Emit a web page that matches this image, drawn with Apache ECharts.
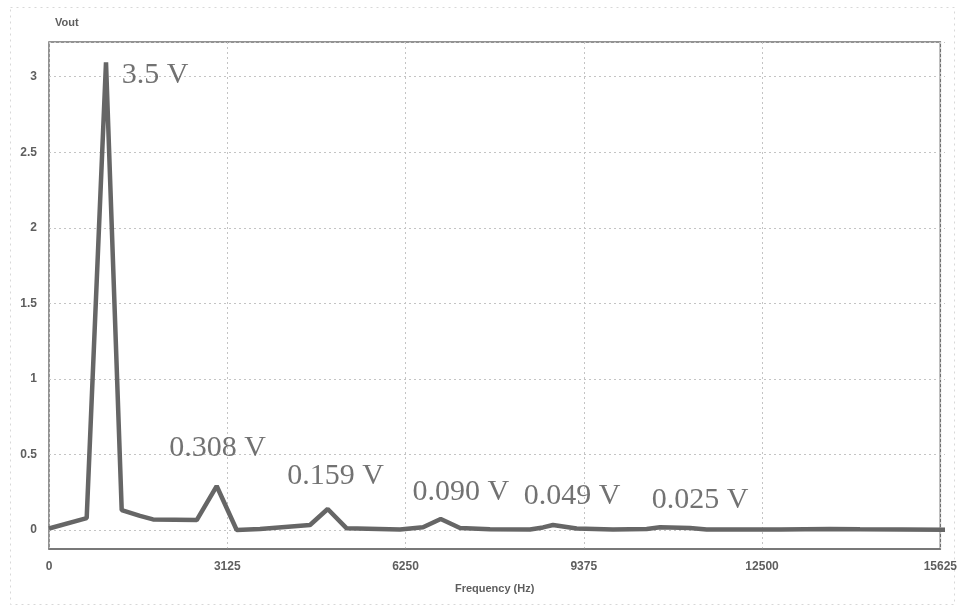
<!DOCTYPE html>
<html>
<head>
<meta charset="utf-8">
<script src="https://cdn.jsdelivr.net/npm/echarts@6/dist/echarts.min.js"></script>
<style>
html,body{margin:0;padding:0;background:#fff;}
#chart{width:960px;height:607px;}
</style>
</head>
<body>
<div id="chart"></div>
<script>
// ---- data ----
const freqHz = [0, 657, 994, 1268, 1587, 1814, 2576, 2924, 3273, 3680, 4552, 4860, 5191, 6121, 6522, 6831, 7168, 7691, 8388, 8615, 8789, 9202, 9835, 10423, 10656, 11178, 11469, 12748, 13620, 14143, 15625];
const vout   = [0.01, 0.079, 3.095, 0.132, 0.093, 0.07, 0.066, 0.291, 0.0, 0.007, 0.033, 0.139, 0.011, 0.003, 0.018, 0.073, 0.013, 0.005, 0.003, 0.017, 0.033, 0.01, 0.004, 0.007, 0.018, 0.013, 0.004, 0.004, 0.007, 0.005, 0.002];
const xTicks = [0, 3125, 6250, 9375, 12500, 15625];
const yTicks = [0, 0.5, 1, 1.5, 2, 2.5, 3];
const peakText  = ['3.5 V', '0.308 V', '0.159 V', '0.090 V', '0.049 V', '0.025 V'];
const peakIndex = [2, 7, 11, 15, 20, 24];

// ---- styles (label offsets in pixels) ----
const labelOffsets = [[49, 13], [1, -38], [8, -33], [20, -27], [19, -29], [40, -27]];

const chart = echarts.init(document.getElementById('chart'), null, {renderer: 'canvas'});
const axisFont = {fontFamily: 'Liberation Sans, Arial, sans-serif', fontWeight: 'bold', fontSize: 12, color: '#5e5e5e'};
const xMin = xTicks[0], xMax = xTicks[xTicks.length - 1], xInt = xTicks[1] - xTicks[0];
const yInt = yTicks[1] - yTicks[0];

const lineData = freqHz.map((f, i) => [f, vout[i]]);
const annData = peakIndex.map((idx, k) => ({
  value: [freqHz[idx], vout[idx]],
  label: {formatter: peakText[k], offset: labelOffsets[k]}
}));

chart.setOption({
  animation: false,
  backgroundColor: '#fff',
  grid: [
    {left: 49, right: 15, top: 42, bottom: 77, show: false},
    {left: 49, right: 15, top: 42, bottom: 58, show: true, borderColor: '#707070', borderWidth: 1.5, backgroundColor: 'transparent'}
  ],
  xAxis: [
    {gridIndex: 0, type: 'value', min: xMin, max: xMax, interval: xInt, show: false},
    {gridIndex: 1, type: 'value', min: xMin, max: xMax, interval: xInt,
     name: 'Frequency (Hz)', nameLocation: 'middle', nameGap: 34,
     nameTextStyle: Object.assign({}, axisFont, {fontSize: 11}),
     axisLine: {show: true, lineStyle: {color: '#707070', width: 1.5}},
     axisTick: {show: false},
     axisLabel: Object.assign({}, axisFont, {margin: 12, formatter: v => String(v)}),
     splitLine: {show: true, lineStyle: {color: '#c4c4c4', type: [2, 3], width: 1}}}
  ],
  yAxis: [
    {gridIndex: 0, type: 'value', min: 0, max: 3.23, interval: yInt,
     name: 'Vout', nameLocation: 'end', nameGap: 14,
     nameTextStyle: Object.assign({}, axisFont, {fontSize: 11, align: 'left', padding: [0, 0, 0, 6]}),
     axisLine: {show: false}, axisTick: {show: false},
     axisLabel: Object.assign({}, axisFont, {margin: 12,
       formatter: v => (Math.abs(v / yInt - Math.round(v / yInt)) < 1e-6 ? String(v) : '')}),
     splitLine: {show: true, lineStyle: {color: '#c4c4c4', type: [2, 3], width: 1}}},
    {gridIndex: 1, type: 'value', show: false, min: 0, max: 1}
  ],
  graphic: [{
    type: 'rect', left: 8, top: 5, silent: true,
    shape: {width: 944, height: 597},
    style: {fill: 'none', stroke: '#d8d8d8', lineWidth: 1, lineDash: [2, 4]}
  }],
  series: [
    {type: 'line', xAxisIndex: 0, yAxisIndex: 0, data: lineData, showSymbol: false, symbol: 'none',
     lineStyle: {color: '#666666', width: 4.5}, clip: false, z: 3},
    {type: 'scatter', xAxisIndex: 0, yAxisIndex: 0, data: annData, symbolSize: 0, silent: true, z: 4,
     label: {show: true, position: 'inside', align: 'center', verticalAlign: 'middle',
       fontFamily: 'Liberation Serif, Times New Roman, serif', fontSize: 30, color: '#4f4f4f'}}
  ]
});
</script>
</body>
</html>
